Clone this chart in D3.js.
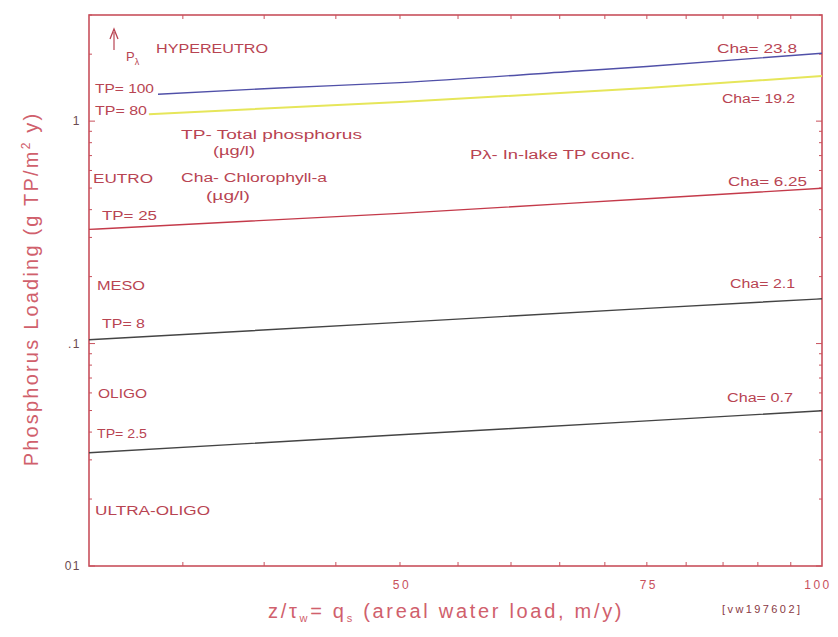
<!DOCTYPE html>
<html>
<head>
<meta charset="utf-8">
<script src="https://cdn.jsdelivr.net/npm/d3@7"></script>
<style>
  body { margin: 0; background: #fff; }
  svg { font-family: "Liberation Sans", Arial, sans-serif; }
</style>
</head>
<body>
<svg width="838" height="637"></svg>
<script>
// curves: x = areal water load (m/y), y = P loading (g TP/m2 y)
var tp100 = [[33.6, 1.32], [41, 1.41], [50, 1.49], [67, 1.68], [75, 1.76], [100, 2.02]];
var tp80  = [[33.1, 1.075], [50, 1.218], [75, 1.408], [100, 1.595]];
var tp25  = [[30, 0.326], [50, 0.385], [75, 0.448], [100, 0.499]];
var tp8   = [[30, 0.104], [50, 0.1245], [75, 0.1439], [100, 0.159]];
var tp2_5 = [[30, 0.0323], [50, 0.0389], [75, 0.0449], [100, 0.0499]];

var curves = [tp100, tp80, tp25, tp8, tp2_5];
var curveColors = ["#5050a8", "#e6e65a", "#c43a4a", "#444", "#444"];

var xTicks = [50, 75, 100];
var xMinor = [35, 40, 45, 50, 55, 60, 65, 70, 75, 80, 85, 90, 95];
var yTicks = [0.01, 0.1, 1];
var yTickLabels = ["01", ".1", "1"];

var red = "#c8505c";
var textRed = "#b84452";

var svg = d3.select("svg");

var x = d3.scaleLog().domain([30, 100]).range([89, 822]);
var y = d3.scaleLog().domain([0.01, 3]).range([566, 15]);

// minor y ticks 2..9 per decade
var yMinor = [];
[0.01, 0.1, 1].forEach(function(d){
    for(k=2; k<10; k++){
        if(d*k <= 3) yMinor.push(d*k);
    }
});

// frame
svg.append("rect")
    .attr("x", x(30)).attr("y", y(3))
    .attr("width", x(100)-x(30)).attr("height", y(0.01)-y(3))
    .attr("fill", "none").attr("stroke", red).attr("stroke-width", 1.6);

var ticks = svg.append("g").attr("stroke", red).attr("stroke-width", 1);
xMinor.forEach(function(d){
    ticks.append("line").attr("x1", x(d)).attr("x2", x(d)).attr("y1", y(0.01)).attr("y2", y(0.01)-4);
    ticks.append("line").attr("x1", x(d)).attr("x2", x(d)).attr("y1", y(3)).attr("y2", y(3)+4);
});
yMinor.concat(yTicks).forEach(function(d){
    var len = yTicks.indexOf(d) >= 0 ? 6 : 3;
    ticks.append("line").attr("x1", x(30)).attr("x2", x(30)+len).attr("y1", y(d)).attr("y2", y(d));
    ticks.append("line").attr("x1", x(100)).attr("x2", x(100)-len).attr("y1", y(d)).attr("y2", y(d));
});

// tick labels
svg.selectAll(".xl").data(xTicks).enter().append("text")
    .attr("x", function(d){ return x(d) + (d == 100 ? -4 : 2); })
    .attr("y", 589)
    .attr("text-anchor", "middle")
    .attr("font-size", 12).attr("letter-spacing", 2.5)
    .attr("fill", red)
    .text(function(d){ return d; });

svg.selectAll(".yl").data(yTicks).enter().append("text")
    .attr("x", 81)
    .attr("y", function(d){ return y(d) + 4; })
    .attr("text-anchor", "end")
    .attr("font-size", 12).attr("letter-spacing", 1.5)
    .attr("fill", "#6a4a50")
    .text(function(d, i){ return yTickLabels[i]; });

// curves
var line = d3.line()
    .x(function(d){ return x(d[0]); })
    .y(function(d){ return y(d[1]); })
    .curve(d3.curveMonotoneX);

svg.selectAll(".curve").data(curves).enter().append("path")
    .attr("d", line)
    .attr("fill", "none")
    .attr("stroke", function(d, i){ return curveColors[i]; })
    .attr("stroke-width", function(d, i){ return i == 1 ? 2 : 1.4; });

// text labels: text, x, baseline y, width
var labels = [
    ["HYPEREUTRO", 156, 53, 112],
    ["TP= 100", 95, 93, 59],
    ["TP= 80", 95, 115, 52],
    ["TP- Total phosphorus", 181, 139, 181],
    ["(\u00b5g/l)", 213, 155, 42],
    ["P\u03bb- In-lake TP conc.", 470, 159, 165],
    ["EUTRO", 93, 183, 60],
    ["Cha- Chlorophyll-a", 181, 182, 146],
    ["(\u00b5g/l)", 206, 200, 44],
    ["TP= 25", 102, 220, 55],
    ["Cha= 23.8", 717, 53, 80],
    ["Cha= 19.2", 722, 103, 73],
    ["Cha= 6.25", 728, 186, 79],
    ["MESO", 97, 290, 48],
    ["TP= 8", 102, 328, 43],
    ["Cha= 2.1", 730, 288, 65],
    ["OLIGO", 98, 398, 49],
    ["Cha= 0.7", 727, 402, 66],
    ["TP= 2.5", 97, 438, 50],
    ["ULTRA-OLIGO", 95, 515, 115]
];
svg.selectAll(".lab").data(labels).enter().append("text")
    .attr("x", function(d){ return d[1]; })
    .attr("y", function(d){ return d[2]; })
    .attr("textLength", function(d){ return d[3]; })
    .attr("lengthAdjust", "spacingAndGlyphs")
    .attr("font-size", 12.5)
    .attr("fill", textRed)
    .text(function(d){ return d[0]; });

// P lambda arrow
svg.append("line").attr("x1", 114).attr("x2", 114).attr("y1", 50).attr("y2", 32)
    .attr("stroke", textRed).attr("stroke-width", 1.2);
svg.append("path").attr("d", "M110,39 L114,29 L118,39").attr("fill", "none")
    .attr("stroke", textRed).attr("stroke-width", 1.3);
var pl = svg.append("text").attr("x", 126).attr("y", 61).attr("font-size", 13).attr("fill", textRed);
pl.append("tspan").text("P");
pl.append("tspan").attr("font-size", 9).attr("dy", 4).text("\u03bb");

// axis titles
var xt = svg.append("text").attr("x", 268).attr("y", 618)
    .attr("font-size", 20).attr("fill", "#d0606c").attr("letter-spacing", 2.7);
xt.append("tspan").text("z/\u03c4");
xt.append("tspan").attr("font-size", 11).attr("dy", 4).text("w");
xt.append("tspan").attr("dy", -4).text("= q");
xt.append("tspan").attr("font-size", 11).attr("dy", 4).text("s");
xt.append("tspan").attr("dy", -4).text(" (areal water load, m/y)");

svg.append("text").attr("x", 722).attr("y", 613)
    .attr("font-size", 11).attr("fill", "#8a3a44")
    .attr("textLength", 78).attr("lengthAdjust", "spacing")
    .text("[vw197602]");

var yt = svg.append("text")
    .attr("transform", "translate(38,289) rotate(-90)")
    .attr("text-anchor", "middle")
    .attr("font-size", 20).attr("fill", "#d0606c").attr("letter-spacing", 2.2);
yt.append("tspan").text("Phosphorus Loading (g TP/m");
yt.append("tspan").attr("font-size", 12).attr("dy", -8).text("2");
yt.append("tspan").attr("dy", 8).text(" y)");
</script>
</body>
</html>
